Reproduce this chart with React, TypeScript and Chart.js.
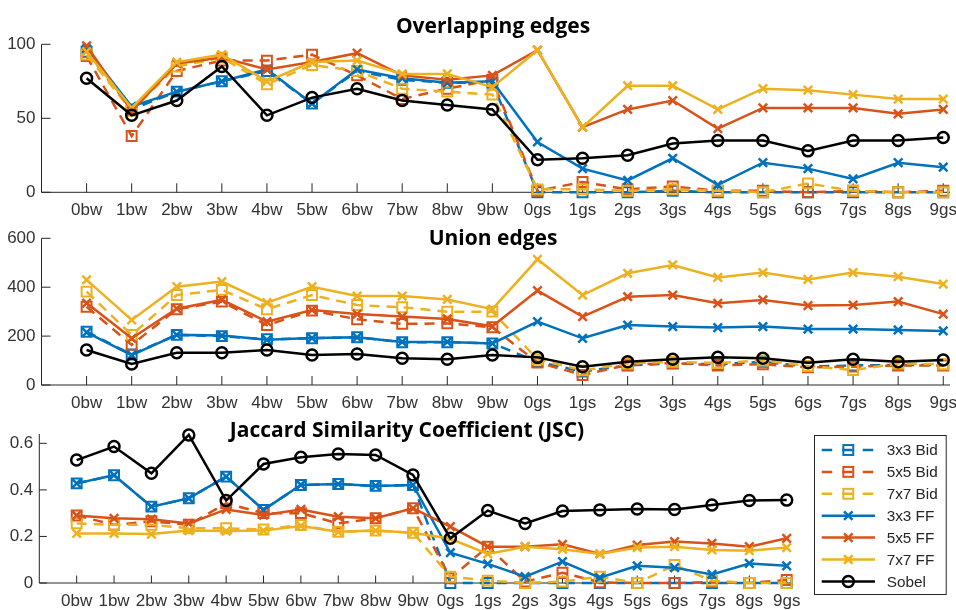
import React, { useEffect, useRef } from 'react';
import { Chart, registerables } from 'chart.js';

Chart.register(...registerables);

const categories = ['0bw', '1bw', '2bw', '3bw', '4bw', '5bw', '6bw', '7bw', '8bw', '9bw',
  '0gs', '1gs', '2gs', '3gs', '4gs', '5gs', '6gs', '7gs', '8gs', '9gs'];
const seriesNames = ['3x3 Bid', '5x5 Bid', '7x7 Bid', '3x3 FF', '5x5 FF', '7x7 FF', 'Sobel'];

// Overlapping edges
const ovBid3 = [95, 56, 68, 75, 82, 60, 82, 76, 74, 74, 0, 0, 0, 1, 0, 0, 0, 0, 0, 0];
const ovBid5 = [92, 38, 82, 89, 89, 93, 79, 63, 70, 76, 1, 7, 2, 4, 1, 1, 0, 1, 0, 1];
const ovBid7 = [93, 55, 85, 91, 73, 86, 82, 70, 68, 66, 2, 2, 1, 2, 1, 0, 6, 1, 0, 0];
const ovFF3 = [97, 58, 68, 75, 83, 60, 83, 77, 74, 75, 34, 16, 8, 23, 5, 20, 16, 9, 20, 17];
const ovFF5 = [99, 55, 87, 91, 83, 88, 94, 79, 76, 79, 96, 44, 56, 62, 43, 57, 57, 57, 53, 56];
const ovFF7 = [95, 57, 88, 93, 75, 88, 89, 80, 80, 71, 96, 44, 72, 72, 56, 70, 69, 66, 63, 63];
const ovSobel = [77, 52, 62, 85, 52, 64, 70, 62, 59, 56, 22, 23, 25, 33, 35, 35, 28, 35, 35, 37];

// Union edges
const unBid3 = [218, 125, 205, 200, 187, 191, 195, 175, 175, 170, 95, 55, 80, 88, 85, 95, 75, 80, 82, 82];
const unBid5 = [320, 164, 310, 341, 245, 304, 269, 250, 252, 236, 92, 41, 82, 90, 80, 85, 72, 75, 80, 80];
const unBid7 = [382, 205, 368, 389, 310, 368, 327, 318, 300, 300, 105, 60, 88, 95, 90, 100, 78, 61, 88, 85];
const unFF3 = [215, 122, 205, 202, 185, 192, 195, 176, 176, 170, 259, 191, 245, 239, 235, 239, 229, 229, 225, 221];
const unFF5 = [335, 191, 312, 348, 259, 307, 290, 280, 270, 240, 386, 280, 361, 368, 334, 348, 325, 327, 341, 290];
const unFF7 = [430, 266, 402, 423, 337, 402, 364, 364, 350, 310, 514, 368, 457, 491, 440, 460, 432, 460, 443, 413];
const unSobel = [143, 86, 132, 132, 143, 123, 127, 109, 105, 123, 113, 75, 95, 105, 113, 109, 91, 105, 95, 102];

// Jaccard Similarity Coefficient
const jBid3 = [0.428, 0.463, 0.328, 0.364, 0.457, 0.314, 0.421, 0.425, 0.417, 0.421, 0, 0, 0, 0, 0, 0, 0, 0, 0, 0];
const jBid5 = [0.29, 0.25, 0.265, 0.25, 0.342, 0.3, 0.3, 0.256, 0.278, 0.321, 0.02, 0.156, 0.006, 0.044, 0.003, 0, 0, 0.005, 0, 0.013];
const jBid7 = [0.256, 0.25, 0.25, 0.235, 0.235, 0.23, 0.249, 0.22, 0.225, 0.216, 0.027, 0.01, 0, 0.006, 0.027, 0, 0.077, 0.01, 0, 0];
const jFF3 = [0.428, 0.463, 0.328, 0.364, 0.457, 0.314, 0.421, 0.425, 0.417, 0.421, 0.13, 0.082, 0.027, 0.092, 0.023, 0.074, 0.066, 0.037, 0.084, 0.074];
const jFF5 = [0.29, 0.278, 0.274, 0.256, 0.316, 0.292, 0.316, 0.285, 0.278, 0.321, 0.242, 0.156, 0.156, 0.166, 0.125, 0.163, 0.178, 0.17, 0.156, 0.192];
const jFF7 = [0.213, 0.213, 0.21, 0.225, 0.223, 0.225, 0.245, 0.22, 0.225, 0.216, 0.19, 0.125, 0.156, 0.145, 0.125, 0.152, 0.156, 0.142, 0.139, 0.152];
const jSobel = [0.528, 0.586, 0.471, 0.636, 0.354, 0.511, 0.54, 0.554, 0.55, 0.464, 0.192, 0.311, 0.256, 0.309, 0.314, 0.318, 0.316, 0.335, 0.354, 0.356];

const yTicksOv = [0, 50, 100];
const yTicksUn = [0, 200, 400, 600];
const yTicksJ = [0, 0.2, 0.4, 0.6];

const BLUE = '#0072BD';
const ORANGE = '#D95319';
const YELLOW = '#EDB120';
const BLACK = '#000000';
const AXIS = '#262626';
const TICK_FONT = '"Liberation Sans", Arial, sans-serif';

type Style = { color: string; dash: boolean; marker: string };
const styles: Style[] = [
  { color: BLUE, dash: true, marker: 'rect' },
  { color: ORANGE, dash: true, marker: 'rect' },
  { color: YELLOW, dash: true, marker: 'rect' },
  { color: BLUE, dash: false, marker: 'crossRot' },
  { color: ORANGE, dash: false, marker: 'crossRot' },
  { color: YELLOW, dash: false, marker: 'crossRot' },
  { color: BLACK, dash: false, marker: 'circle' },
];

const CW = 1000;
const CH = 610;
const XAXIS_H = 27;

type Panel = {
  title: string;
  titleX: number;
  titleBase: number;
  series: number[][];
  yTicks: number[];
  yMax: number;
  xMax: number;
  area: { left: number; right: number; top: number; bottom: number };
  tickLen: number;
  legend: boolean;
};

const panels: Panel[] = [
  {
    title: 'Overlapping edges', titleX: 493, titleBase: 33.3,
    series: [ovBid3, ovBid5, ovBid7, ovFF3, ovFF5, ovFF7, ovSobel],
    yTicks: yTicksOv, yMax: 100, xMax: 19.15,
    area: { left: 41.5, right: 950, top: 44.3, bottom: 192.3 }, tickLen: 9, legend: false,
  },
  {
    title: 'Union edges', titleX: 493, titleBase: 244.5,
    series: [unBid3, unBid5, unBid7, unFF3, unFF5, unFF7, unSobel],
    yTicks: yTicksUn, yMax: 600, xMax: 19.15,
    area: { left: 41.5, right: 950, top: 238.3, bottom: 385 }, tickLen: 9, legend: false,
  },
  {
    title: 'Jaccard Similarity Coefficient (JSC)', titleX: 407, titleBase: 436.7,
    series: [jBid3, jBid5, jBid7, jFF3, jFF5, jFF7, jSobel],
    yTicks: yTicksJ, yMax: 0.64, xMax: 19.15,
    area: { left: 39.3, right: 792.3, top: 434, bottom: 583 }, tickLen: 7.5, legend: true,
  },
];

function markerRadius(m: string) {
  if (m === 'rect') return 7;
  if (m === 'crossRot') return 6;
  return 5.5;
}

function drawMarker(ctx: CanvasRenderingContext2D, m: string, x: number, y: number, color: string) {
  ctx.save();
  ctx.setLineDash([]);
  ctx.strokeStyle = color;
  if (m === 'rect') {
    ctx.lineWidth = 2;
    const s = 7 * Math.SQRT1_2;
    ctx.strokeRect(x - s, y - s, 2 * s, 2 * s);
  } else if (m === 'crossRot') {
    ctx.lineWidth = 2.5;
    const s = 6 * Math.SQRT1_2;
    ctx.beginPath();
    ctx.moveTo(x - s, y - s); ctx.lineTo(x + s, y + s);
    ctx.moveTo(x - s, y + s); ctx.lineTo(x + s, y - s);
    ctx.stroke();
  } else {
    ctx.lineWidth = 2.5;
    ctx.beginPath();
    ctx.arc(x, y, 5.5, 0, Math.PI * 2);
    ctx.stroke();
  }
  ctx.restore();
}

function PanelChart({ p }: { p: Panel }) {
  const ref = useRef<HTMLCanvasElement | null>(null);
  useEffect(() => {
    if (!ref.current) return;
    const datasets = p.series.map((vals, i) => ({
      label: seriesNames[i],
      data: vals.map((v, k) => ({ x: k, y: v })),
      borderColor: styles[i].color,
      backgroundColor: 'rgba(0,0,0,0)',
      borderWidth: 2.5,
      borderDash: styles[i].dash ? [10, 7] : [],
      pointStyle: styles[i].marker,
      pointRadius: markerRadius(styles[i].marker),
      pointBorderWidth: styles[i].marker === 'rect' ? 2 : 2.5,
      pointBorderColor: styles[i].color,
      pointBackgroundColor: 'rgba(0,0,0,0)',
      tension: 0,
      order: 6 - i,
      clip: false as any,
    }));

    const axesPlugin = {
      id: 'matlabAxes',
      beforeDatasetsDraw(chart: any) {
        const ctx = chart.ctx as CanvasRenderingContext2D;
        const { left, right, top, bottom } = chart.chartArea;
        const xs = chart.scales.x;
        const ys = chart.scales.y;
        ctx.save();
        ctx.strokeStyle = AXIS;
        ctx.lineWidth = 1;
        ctx.beginPath();
        ctx.moveTo(left, top);
        ctx.lineTo(left, bottom);
        ctx.lineTo(right, bottom);
        categories.forEach((_, k) => {
          const x = xs.getPixelForValue(k);
          ctx.moveTo(x, bottom);
          ctx.lineTo(x, bottom - p.tickLen);
        });
        p.yTicks.forEach((v) => {
          const y = ys.getPixelForValue(v);
          ctx.moveTo(left, y);
          ctx.lineTo(left + p.tickLen, y);
        });
        ctx.stroke();
        ctx.restore();
      },
      afterDraw(chart: any) {
        const ctx = chart.ctx as CanvasRenderingContext2D;
        ctx.save();
        ctx.fillStyle = '#000';
        ctx.font = 'bold 21px "Open Sans", "Noto Sans", sans-serif';
        ctx.textAlign = 'center';
        ctx.textBaseline = 'alphabetic';
        ctx.fillText(p.title, p.titleX, p.titleBase);
        ctx.restore();
        if (p.legend) {
          ctx.save();
          const bx = 814, by = 435, bw = 132.7, bh = 160;
          ctx.fillStyle = '#ffffff';
          ctx.fillRect(bx, by, bw, bh);
          ctx.strokeStyle = AXIS;
          ctx.lineWidth = 1;
          ctx.strokeRect(bx + 0.5, by + 0.5, bw - 1, bh - 1);
          seriesNames.forEach((name, i) => {
            const y = 450 + i * 21.9;
            const st = styles[i];
            ctx.save();
            ctx.strokeStyle = st.color;
            ctx.lineWidth = 2.5;
            ctx.setLineDash(st.dash ? [10.5, 10] : []);
            ctx.beginPath();
            ctx.moveTo(821.7, y);
            ctx.lineTo(875, y);
            ctx.stroke();
            ctx.restore();
            drawMarker(ctx, st.marker, 848.3, y, st.color);
            ctx.fillStyle = AXIS;
            ctx.font = '15.3px ' + TICK_FONT;
            ctx.textAlign = 'left';
            ctx.textBaseline = 'middle';
            ctx.fillText(name, 886.7, y + 1);
          });
          ctx.restore();
        }
      },
    };

    const chart = new Chart(ref.current, {
      type: 'line',
      data: { datasets },
      options: {
        animation: false,
        responsive: false,
        events: [],
        layout: {
          padding: {
            left: 0,
            top: p.area.top,
            right: CW - p.area.right,
            bottom: CH - p.area.bottom - XAXIS_H,
          },
        },
        plugins: { legend: { display: false }, title: { display: false }, tooltip: { enabled: false } },
        scales: {
          x: {
            type: 'linear',
            min: -1,
            max: p.xMax,
            grid: { display: false, drawTicks: false },
            border: { display: false },
            afterBuildTicks: (s: any) => { s.ticks = categories.map((_, k) => ({ value: k })); },
            afterFit: (s: any) => { s.height = XAXIS_H; },
            ticks: {
              autoSkip: false, maxRotation: 0, minRotation: 0, padding: 8,
              color: '#333333', font: { family: TICK_FONT, size: 17 },
              callback: (v: any) => categories[Math.round(Number(v))] ?? '',
            },
          },
          y: {
            type: 'linear',
            min: 0,
            max: p.yMax,
            grid: { display: false, drawTicks: false },
            border: { display: false },
            afterBuildTicks: (s: any) => { s.ticks = p.yTicks.map((v) => ({ value: v })); },
            afterFit: (s: any) => { s.width = p.area.left; },
            ticks: {
              padding: 6, color: '#333333', font: { family: TICK_FONT, size: 17 },
              callback: (v: any) => String(v),
            },
          },
        },
      } as any,
      plugins: [axesPlugin],
    });
    return () => chart.destroy();
  }, [p]);
  return (
    <canvas
      ref={ref}
      width={CW}
      height={CH}
      style={{ position: 'absolute', left: 0, top: 0, width: CW, height: CH }}
    />
  );
}

export default function App() {
  return (
    <div
      style={{
        position: 'fixed', left: 0, top: 0, width: 956, height: 610,
        overflow: 'hidden', background: '#ffffff',
      }}
    >
      {panels.map((p, i) => (
        <PanelChart key={i} p={p} />
      ))}
    </div>
  );
}
